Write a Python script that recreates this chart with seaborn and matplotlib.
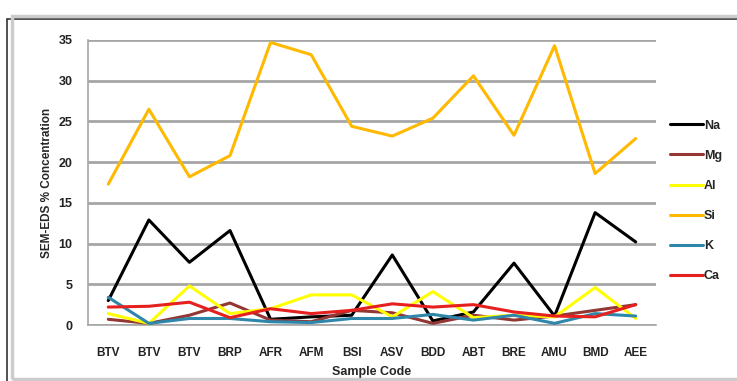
import pandas as pd
import numpy as np
import matplotlib.pyplot as plt
import seaborn as sns
from matplotlib.patches import Rectangle

sns.set_style("white")
plt.rcParams['font.family'] = ['Liberation Sans', 'DejaVu Sans']

samples = ['BTV', 'BTV', 'BTV', 'BRP', 'AFR', 'AFM', 'BSI', 'ASV',
           'BDD', 'ABT', 'BRE', 'AMU', 'BMD', 'AEE']

na = [3.0, 12.9, 7.7, 11.6, 0.7, 1.0, 1.2, 8.6, 0.5, 1.6, 7.6, 1.1, 13.8, 10.2]
mg = [0.7, 0.2, 1.2, 2.7, 0.6, 0.4, 1.8, 1.5, 0.2, 1.2, 0.6, 1.1, 1.8, 2.5]
al = [1.4, 0.2, 4.8, 1.4, 2.0, 3.7, 3.7, 1.0, 4.1, 0.9, 1.2, 1.0, 4.6, 0.8]
si = [17.3, 26.5, 18.2, 20.8, 34.7, 33.2, 24.4, 23.2, 25.4, 30.6, 23.3, 34.3, 18.6, 22.9]
k = [3.4, 0.2, 0.8, 0.8, 0.4, 0.3, 0.8, 0.8, 1.3, 0.6, 1.2, 0.2, 1.4, 1.1]
ca = [2.2, 2.3, 2.8, 0.9, 2.0, 1.4, 1.8, 2.6, 2.2, 2.5, 1.6, 1.1, 1.0, 2.5]

elements = {'Na': na, 'Mg': mg, 'Al': al, 'Si': si, 'K': k, 'Ca': ca}
palette = {
    'Na': '#000000',
    'Mg': '#943634',
    'Al': '#FFFF00',
    'Si': '#FFB900',
    'K': '#2E86AB',
    'Ca': '#E5201F'
}

rows = []
for el, vals in elements.items():
    for i, v in enumerate(vals):
        rows.append({'pos': i, 'element': el, 'value': v})
df = pd.DataFrame(rows)

fig = plt.figure(figsize=(7.37, 3.81), dpi=100)
ax = fig.add_axes([88 / 737, 1 - 325 / 381, (656 - 88) / 737, (325 - 40) / 381])

# gridlines behind the lines
for yv in range(0, 40, 5):
    ax.axhline(yv, color='#A6A6A6', lw=2, zorder=0)

sns.lineplot(data=df, x='pos', y='value', hue='element', palette=palette,
             hue_order=list(elements.keys()), lw=2.2, ax=ax, zorder=3)

ax.set_xlim(-0.5, len(samples) - 0.5)
ax.set_ylim(0, 35)
ax.set_yticks(range(0, 40, 5))
ax.set_xticks(range(len(samples)))
ax.set_xticklabels(samples)
ax.set_xticks(np.arange(-0.5, len(samples), 1), minor=True)
ax.tick_params(axis='x', which='major', length=0, pad=16, labelsize=8.5)
ax.tick_params(axis='x', which='minor', length=5, color='#A6A6A6', width=1.2, direction='out')
ax.tick_params(axis='y', length=5, color='#A6A6A6', width=1.2, direction='out', labelsize=9, pad=6)
for lab in ax.get_xticklabels() + ax.get_yticklabels():
    lab.set_fontweight('bold')
    lab.set_color('#222222')

for side in ['top', 'right']:
    ax.spines[side].set_visible(False)
ax.spines['left'].set_color('#A6A6A6')
ax.spines['left'].set_linewidth(1.2)
ax.spines['bottom'].set_color('#A6A6A6')
ax.spines['bottom'].set_linewidth(1.2)

ax.set_xlabel('Sample Code', fontsize=9, fontweight='bold', labelpad=5)
ax.set_ylabel('SEM-EDS % Concentration', fontsize=8.5, fontweight='bold', labelpad=4)

ax.legend(loc='upper left', bbox_to_anchor=(1.005, 0.76), frameon=False,
          handlelength=2.6, handletextpad=0.1, labelspacing=1.45,
          prop={'size': 9, 'weight': 'bold'})

# outer frame and inner light border
fig.patches.append(Rectangle((7 / 737, -10 / 381), 740 / 737, 362 / 381 + 10 / 381,
                             transform=fig.transFigure, fill=False,
                             edgecolor='#333333', lw=1.2))
fig.patches.append(Rectangle((12 / 737, 2 / 381), 740 / 737, 363 / 381,
                             transform=fig.transFigure, fill=False,
                             edgecolor='#CCCCCC', lw=2.5))

fig.savefig('out.png', dpi=100)
